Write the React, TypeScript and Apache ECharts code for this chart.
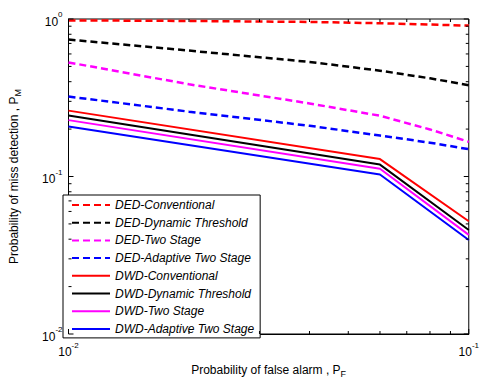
import React, { useEffect, useRef } from "react";
import * as echarts from "echarts";

const xDashed = [0.01, 0.02, 0.04, 0.06, 0.08, 0.1];
const dedConventional = [0.98, 0.972, 0.958, 0.94, 0.922, 0.908];
const dedDynamic = [0.74, 0.63, 0.534, 0.47, 0.42, 0.38];
const dedTwoStage = [0.53, 0.385, 0.291, 0.243, 0.199, 0.166];
const dedAdaptive = [0.322, 0.258, 0.21, 0.182, 0.164, 0.149];

const xSolid = [0.01, 0.06, 0.1];
const dwdConventional = [0.262, 0.129, 0.052];
const dwdDynamic = [0.244, 0.119, 0.0457];
const dwdTwoStage = [0.228, 0.112, 0.0426];
const dwdAdaptive = [0.208, 0.103, 0.0395];

const names = [
  "DED-Conventional",
  "DED-Dynamic Threshold",
  "DED-Two Stage",
  "DED-Adaptive Two Stage",
  "DWD-Conventional",
  "DWD-Dynamic Threshold",
  "DWD-Two Stage",
  "DWD-Adaptive Two Stage",
];
const colors = ["#ff0000", "#000000", "#ff00ff", "#0000ff"];

const xMinorTicks = [0.02, 0.03, 0.04, 0.05, 0.06, 0.07, 0.08, 0.09];
const xMajorTicks = [0.01, 0.1];
const yMinorTicks = [0.02, 0.03, 0.04, 0.05, 0.06, 0.07, 0.08, 0.09, 0.2, 0.3, 0.4, 0.5, 0.6, 0.7, 0.8, 0.9];
const yMajorTicks = [0.01, 0.1, 1];

const FONT = "Liberation Sans, Arial, sans-serif";

export default function App() {
  const ref = useRef<HTMLDivElement>(null);
  useEffect(() => {
    if (!ref.current) return;
    const chart = echarts.init(ref.current, null, { renderer: "svg" });
    const pair = (xs: number[], ys: number[]) => xs.map((x, i) => [x, ys[i]]);
    const dashedData = [dedConventional, dedDynamic, dedTwoStage, dedAdaptive];
    const solidData = [dwdConventional, dwdDynamic, dwdTwoStage, dwdAdaptive];
    const series: any[] = [];
    dashedData.forEach((d, i) => {
      series.push({
        name: names[i],
        type: "line",
        data: pair(xDashed, d),
        symbol: "none",
        lineStyle: { color: colors[i], width: 2.5, type: [7, 4] },
        itemStyle: { color: colors[i] },
      });
    });
    solidData.forEach((d, i) => {
      series.push({
        name: names[i + 4],
        type: "line",
        data: pair(xSolid, d),
        symbol: "none",
        lineStyle: { color: colors[i], width: 2, type: "solid" },
        itemStyle: { color: colors[i] },
      });
    });
    const labelFmt = (v: number) => {
      const e = Math.round(Math.log10(v));
      return `{b|10}{s|${e}}`;
    };
    const rich = {
      b: { fontSize: 12, fontFamily: FONT, color: "#000", padding: [5, 0, 0, 0] },
      s: { fontSize: 8, fontFamily: FONT, color: "#000", padding: [0, 0, 9, 0] },
    };
    chart.setOption({
      animation: false,
      backgroundColor: "#fff",
      grid: { left: 64, top: 19, right: 7, bottom: 43, show: true, borderColor: "#000", borderWidth: 1 },
      xAxis: {
        type: "log",
        logBase: 10,
        min: 0.01,
        max: 0.1,
        name: "{a|Probability of false alarm , P}{sub|F}",
        nameLocation: "middle",
        nameGap: 27,
        nameTextStyle: {
          rich: {
            a: { fontSize: 12, fontFamily: FONT, color: "#000" },
            sub: { fontSize: 9, fontFamily: FONT, color: "#000", padding: [8, 0, 0, 0] },
          },
        },
        axisLine: { show: true, lineStyle: { color: "#000", width: 1 } },
        axisTick: { show: false },
        splitLine: { show: false },
        axisLabel: { formatter: labelFmt, rich, margin: 7 },
      },
      yAxis: {
        type: "log",
        logBase: 10,
        min: 0.01,
        max: 1,
        name: "{a|Probability of miss detection , P}{sub|M}",
        nameLocation: "middle",
        nameGap: 46,
        nameTextStyle: {
          rich: {
            a: { fontSize: 12, fontFamily: FONT, color: "#000" },
            sub: { fontSize: 9, fontFamily: FONT, color: "#000", padding: [8, 0, 0, 0] },
          },
        },
        axisLine: { show: true, lineStyle: { color: "#000", width: 1 } },
        axisTick: { show: false },
        splitLine: { show: false },
        axisLabel: { formatter: labelFmt, rich, margin: 6 },
      },
      legend: {
        orient: "vertical",
        left: 63,
        top: 195,
        padding: [4, 6, 3, 8],
        itemWidth: 38,
        itemHeight: 12,
        itemGap: 5.7,
        backgroundColor: "#fff",
        borderColor: "#000",
        borderWidth: 1,
        borderRadius: 0,
        data: names,
        itemStyle: { opacity: 0 },
        textStyle: { fontSize: 12, fontStyle: "italic", fontFamily: FONT, color: "#000", lineHeight: 12 },
      },
      series,
    });

    const gr: any[] = [];
    const p = (x: number, y: number) => chart.convertToPixel({ gridIndex: 0 }, [x, y]) as number[];
    const [x0, y0] = p(0.01, 0.01);
    const [x1, y1] = p(0.1, 1);
    const tick = (xa: number, ya: number, xb: number, yb: number) =>
      gr.push({ type: "line", silent: true, z: 100, shape: { x1: xa, y1: ya, x2: xb, y2: yb }, style: { stroke: "#000", lineWidth: 1 } });
    xMinorTicks.forEach((v) => {
      const px = p(v, 0.1)[0];
      tick(px, y0, px, y0 - 3);
      tick(px, y1, px, y1 + 3);
    });
    xMajorTicks.forEach((v) => {
      const px = p(v, 0.1)[0];
      tick(px, y0, px, y0 - 5);
      tick(px, y1, px, y1 + 5);
    });
    yMinorTicks.forEach((v) => {
      const py = p(0.02, v)[1];
      tick(x0, py, x0 + 3, py);
      tick(x1, py, x1 - 3, py);
    });
    yMajorTicks.forEach((v) => {
      const py = p(0.02, v)[1];
      tick(x0, py, x0 + 5, py);
      tick(x1, py, x1 - 5, py);
    });
    chart.setOption({ graphic: gr });

    return () => chart.dispose();
  }, []);
  return <div ref={ref} style={{ position: "fixed", left: 0, top: 0, width: 482, height: 383 }} />;
}
